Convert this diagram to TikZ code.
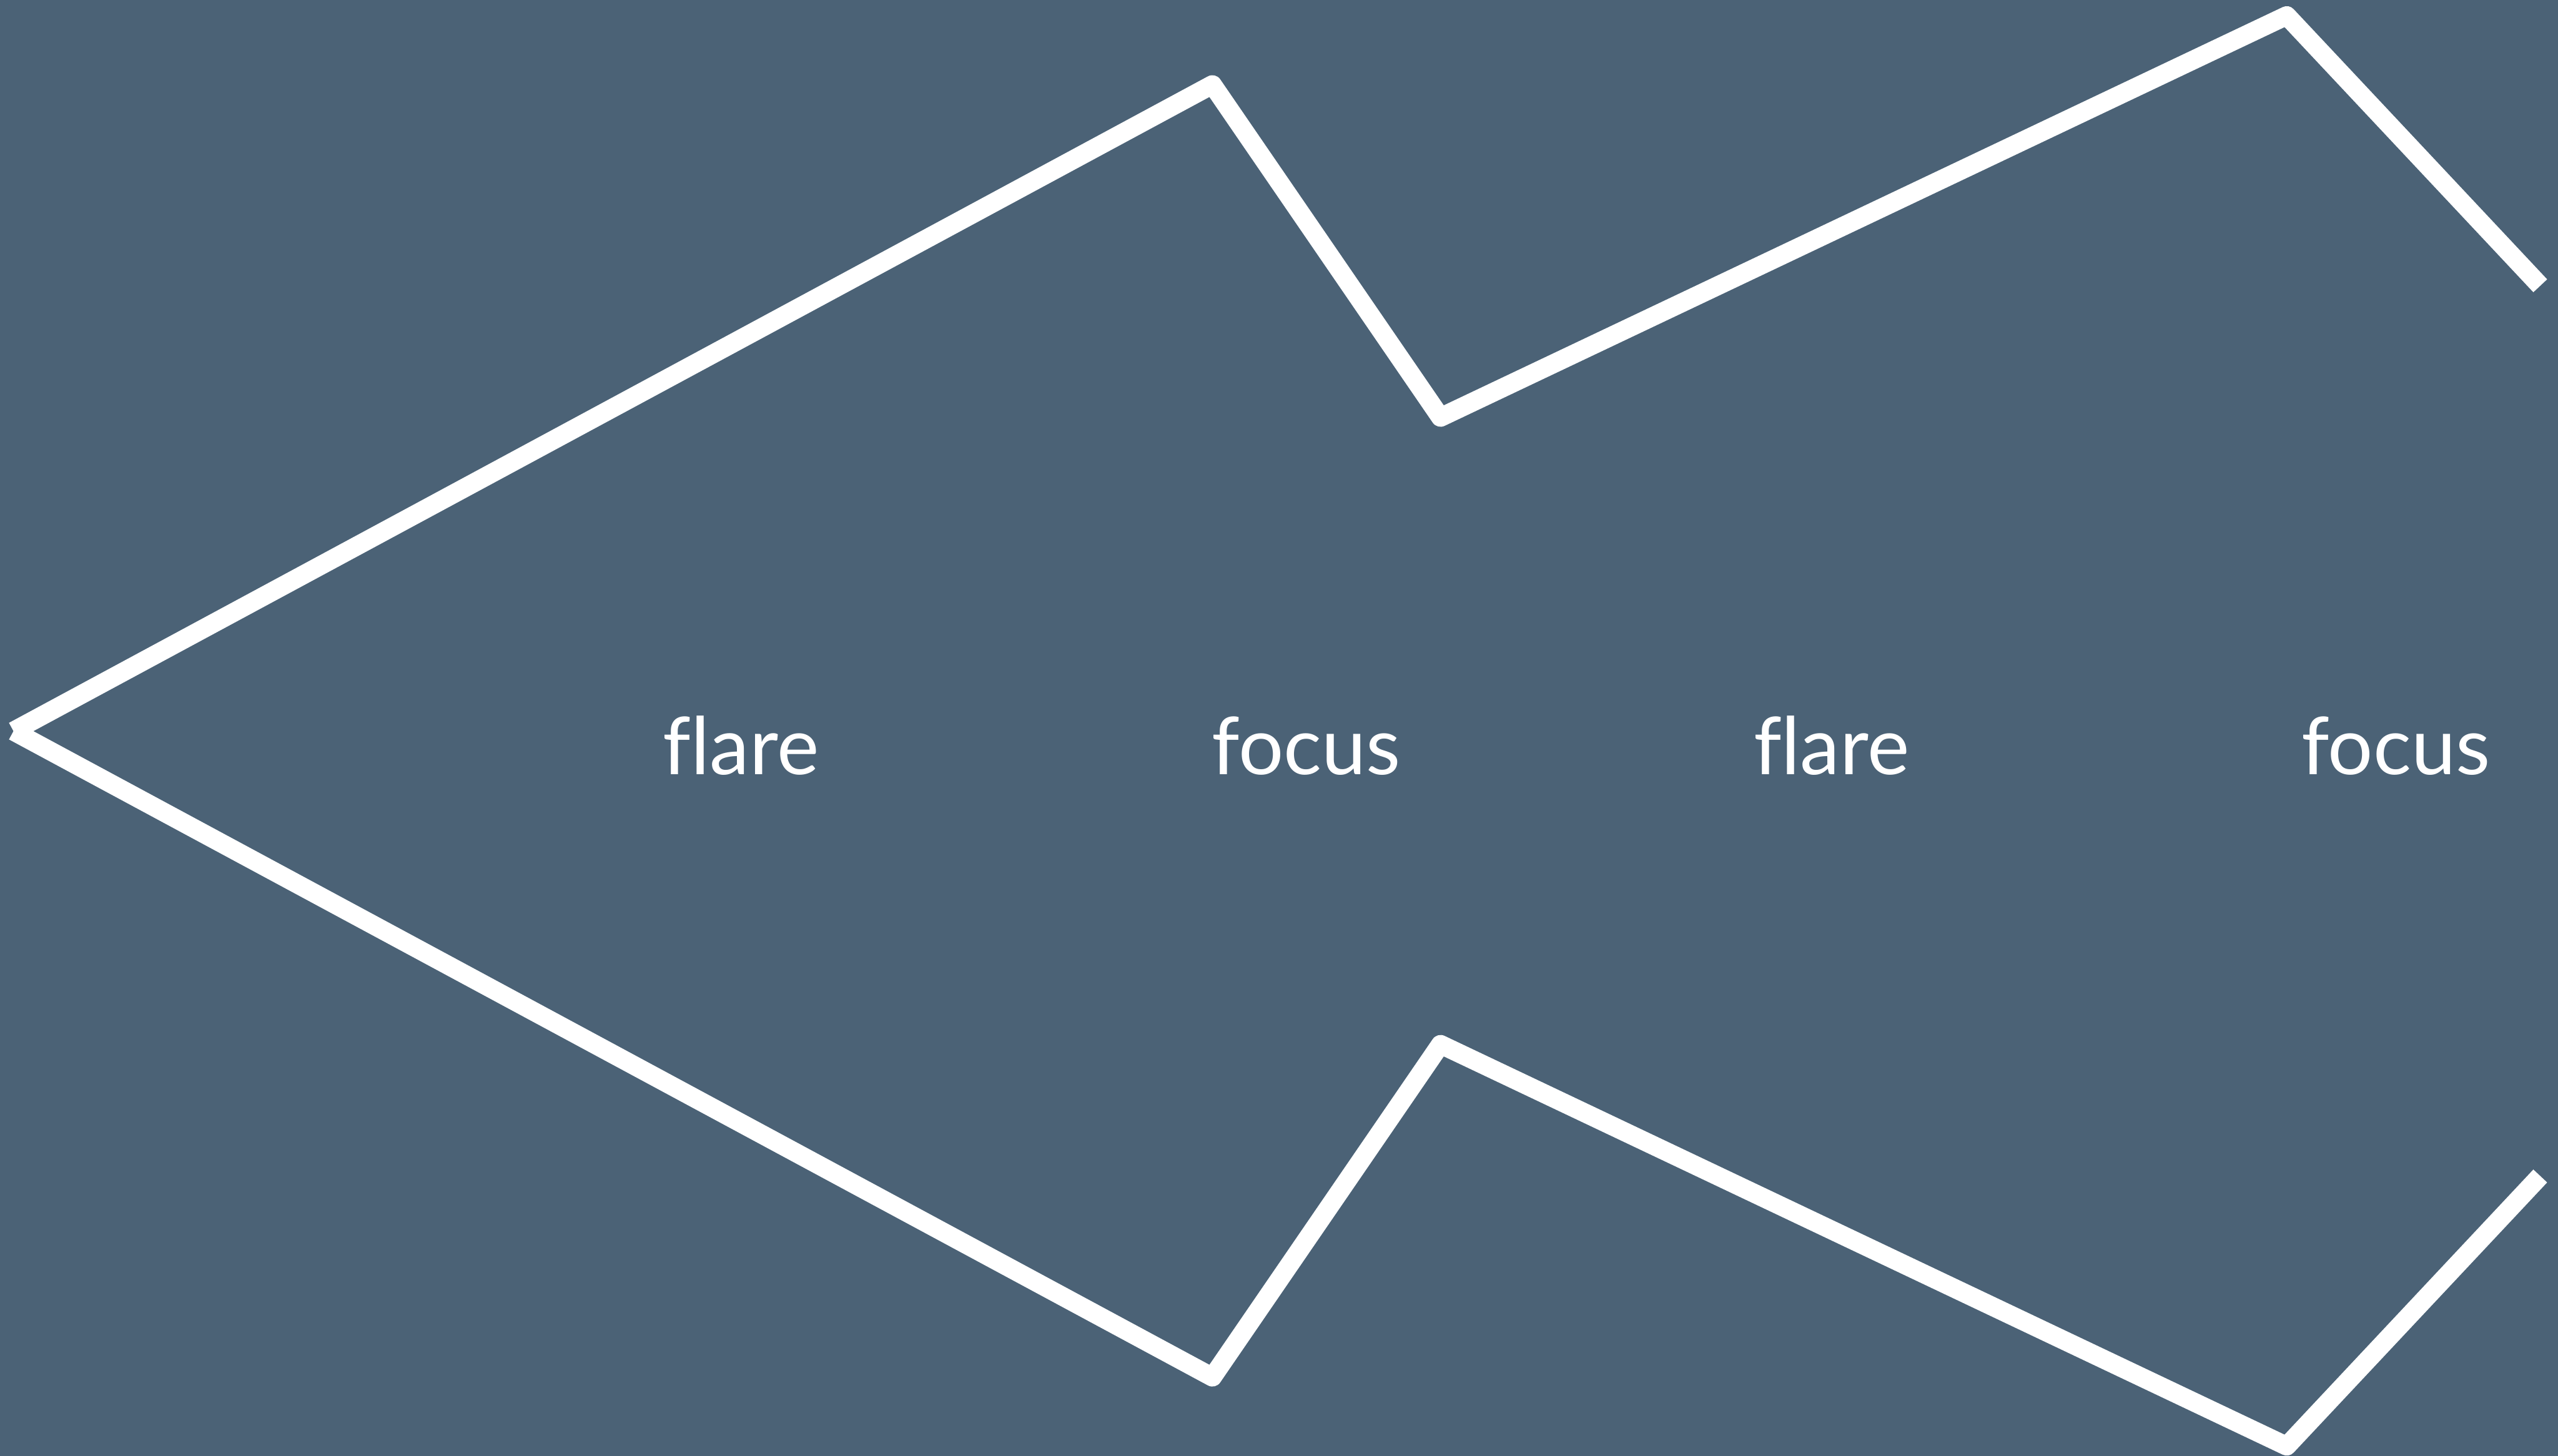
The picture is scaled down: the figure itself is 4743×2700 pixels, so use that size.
\documentclass[tikz,border=0pt]{standalone}
\usepackage{fontspec}
\setmainfont{Lato}[Ligatures={NoCommon}]
\usetikzlibrary{positioning}
\definecolor{FfSlate}{RGB}{75,98,118}
\definecolor{FfWhite}{RGB}{255,255,255}
\tikzset{
  ff/line/.style={
    draw=FfWhite,
    line width=0.35cm,
    line join=round,
    line cap=butt
  },
  ff/label/.style={
    anchor=base,
    text=FfWhite,
    inner sep=0pt,
    font=\fontsize{42}{50}\selectfont
  }
}

\begin{document}
\begin{tikzpicture}[x=0.01cm,y=-0.01cm]
  \fill[FfSlate] (0,0) rectangle (4743,2700);
  \useasboundingbox (0,0) rectangle (4743,2700);
  % outline corners
  \coordinate (tip) at (25,1356);
  \coordinate (upA) at (2248,157);
  \coordinate (upB) at (2671,774);
  \coordinate (upC) at (4240,29);
  \coordinate (upEnd) at (4710,530);
  \coordinate (loA) at (2248,2554);
  \coordinate (loB) at (2671,1937);
  \coordinate (loC) at (4240,2682);
  \coordinate (loEnd) at (4710,2181);
  \draw[ff/line] (tip) -- (upA) -- (upB) -- (upC) -- (upEnd);
  \draw[ff/line] (tip) -- (loA) -- (loB) -- (loC) -- (loEnd);
  % phases
  \node[ff/label] (flareA) at (1374,1437) {flare};
  \node[ff/label] (focusA) at (2422,1437) {focus};
  \node[ff/label] (flareB) at (3396,1437) {flare};
  \node[ff/label] (focusB) at (4442,1437) {focus};
\end{tikzpicture}
\end{document}
